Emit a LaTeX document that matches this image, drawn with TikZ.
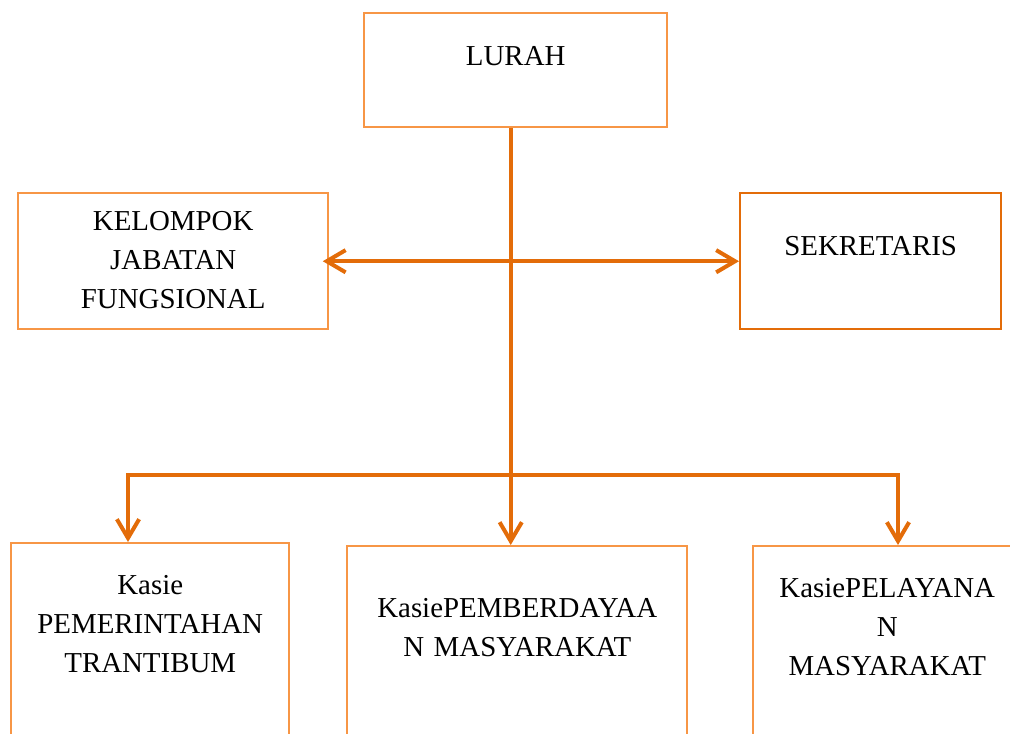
\documentclass[tikz,border=0pt]{standalone}
\usepackage{fontspec}
\setmainfont{Liberation Serif}
\usetikzlibrary{arrows.meta}
\definecolor{lightor}{RGB}{247,150,70}
\definecolor{darkor}{RGB}{227,108,9}
\begin{document}
\begin{tikzpicture}[x=0.45pt, y=-0.45pt, every node/.style={font=\fontsize{13}{17.55}\selectfont},
  box/.style={draw=lightor,line width=1.1pt,anchor=north west,inner sep=0pt,align=center},
  arr/.style={-{Straight Barb[length=8.5pt,width=10pt]},line width=1.8pt,darkor}]
  \useasboundingbox (0,0) rectangle (1010,733);
  \clip (0,0) rectangle (1010,733);
  \node[box,text width=136.35pt,text height=23.4pt,text depth=27.9pt] (lurah) at (363,12) {LURAH};
  \node[box,text width=139.5pt,text height=16.65pt,text depth=44.55pt] (kjf) at (17,192) {KELOMPOK\\JABATAN\\FUNGSIONAL};
  \node[box,draw=darkor,text width=117.45pt,text height=27.9pt,text depth=33.3pt] (sekretaris) at (739,192) {SEKRETARIS};
  \node[box,text width=125.1pt,text height=22.95pt,text depth=112.5pt] (kasiepem) at (10,542) {Kasie\\PEMERINTAHAN\\TRANTIBUM};
  \node[box,text width=153pt,text height=31.95pt,text depth=112.5pt] (kasiepemb) at (346,545) {KasiePEMBERDAYAA\\N MASYARAKAT};
  \node[box,text width=120.6pt,text height=23pt,text depth=112.5pt] (kasiepel) at (752,545) {KasiePELAYANA\\N\\MASYARAKAT};
  % Flow steps
  \coordinate (trunk) at ([xshift=-2.25pt]lurah.south);
  \coordinate (busl) at (128,475);
  \coordinate (busr) at (898,475);
  \draw[arr] (trunk) -- (trunk |- kasiepemb.north);
  \draw[arr,{Straight Barb[length=8.5pt,width=10pt]}-{Straight Barb[length=8.5pt,width=10pt]},shorten <=-3pt] (kjf.east) -- (sekretaris.west);
  \draw[arr] (trunk |- busl) -- (busl) -- (busl |- kasiepem.north);
  \draw[arr] (trunk |- busr) -- (busr) -- (busr |- kasiepel.north);
\end{tikzpicture}
\end{document}
